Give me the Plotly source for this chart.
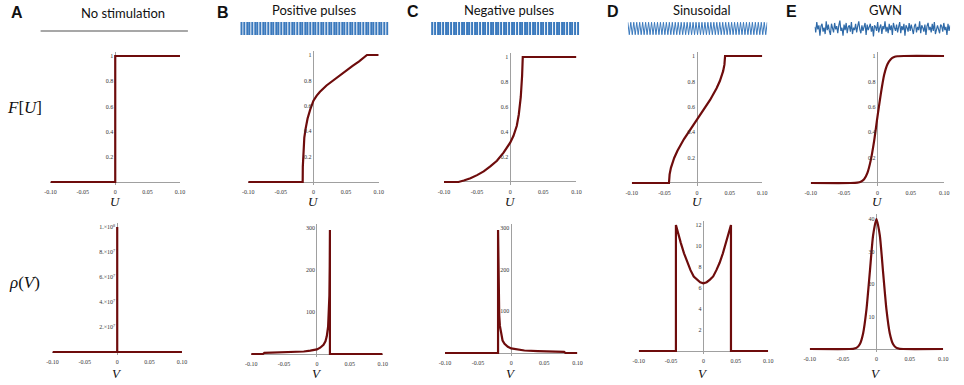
import plotly.graph_objects as go

W, H = 964, 385

# ---------------- data ----------------
x_ticks = [-0.10, -0.05, 0, 0.05, 0.10]
x_tick_text = ["-0.10", "-0.05", "0", "0.05", "0.10"]

# Panel A: no stimulation
U_A = [-0.10, 0.0, 0.0, 0.10]
F_A = [0, 0, 1, 1]
V_A = [-0.10, 0.0, 0.0, 0.0, 0.10]
rho_A = [0, 0, 1.0e8, 0, 0]

# Panel B: positive pulses
U_B = [-0.10, -0.0165, -0.0163, -0.0155, -0.014, -0.012, -0.009, -0.005, 0.0,
       0.005, 0.01, 0.02, 0.03, 0.04, 0.05, 0.06, 0.07, 0.075, 0.08, 0.082, 0.10]
F_B = [0, 0, 0.12, 0.25, 0.35, 0.42, 0.50, 0.57, 0.64,
       0.68, 0.71, 0.76, 0.80, 0.84, 0.88, 0.915, 0.95, 0.968, 0.988, 1.0, 1.0]
V_B = [-0.10, -0.082, -0.08, -0.06, -0.04, -0.02, -0.01, 0.0, 0.005, 0.01,
       0.013, 0.015, 0.017, 0.018, 0.019, 0.0195, 0.0198, 0.0198, 0.10]
rho_B = [0, 0, 2.5, 3.5, 4.5, 6, 8, 11, 15, 22,
         30, 42, 65, 90, 140, 210, 295, 0, 0]

# Panel C: negative pulses
U_C = [-0.10, -0.078, -0.07, -0.06, -0.05, -0.04, -0.03, -0.02, -0.01, 0.0,
       0.005, 0.01, 0.013, 0.016, 0.018, 0.019, 0.10]
F_C = [0, 0, 0.012, 0.03, 0.055, 0.085, 0.125, 0.17, 0.235, 0.315,
       0.37, 0.45, 0.54, 0.68, 0.85, 1.0, 1.0]
V_C = [-0.10, -0.0198, -0.0198, -0.0195, -0.019, -0.018, -0.017, -0.015, -0.013,
       -0.01, -0.005, 0.0, 0.01, 0.02, 0.04, 0.06, 0.08, 0.082, 0.10]
rho_C = [0, 0, 295, 210, 140, 90, 65, 42, 30,
         22, 15, 11, 8, 6, 4.5, 3.5, 2.5, 0, 0]

# Panel D: sinusoidal
U_D = [-0.10, -0.043, -0.042, -0.04, -0.035, -0.03, -0.02, -0.01, 0.0,
       0.01, 0.02, 0.03, 0.035, 0.04, 0.042, 0.043, 0.10]
F_D = [0, 0, 0.068, 0.119, 0.197, 0.254, 0.346, 0.425, 0.5,
       0.575, 0.654, 0.746, 0.803, 0.881, 0.932, 1.0, 1.0]
V_D = [-0.10, -0.0425, -0.0425, -0.041, -0.038, -0.035, -0.03, -0.025, -0.02,
       -0.015, -0.01, -0.005, 0.0, 0.005, 0.01, 0.015, 0.02, 0.025, 0.03,
       0.035, 0.038, 0.041, 0.0425, 0.0425, 0.10]
rho_D = [0, 0, 12.0, 11.6, 10.9, 10.3, 9.3, 8.4, 7.7,
         7.1, 6.8, 6.55, 6.45, 6.55, 6.8, 7.1, 7.7, 8.4, 9.3,
         10.3, 10.9, 11.6, 12.0, 0, 0]

# Panel E: Gaussian white noise
U_E = [-0.10, -0.04, -0.03, -0.025, -0.02, -0.015, -0.01, -0.005, 0.0,
       0.005, 0.01, 0.015, 0.02, 0.025, 0.03, 0.04, 0.10]
F_E = [0, 0.0, 0.003, 0.01, 0.03, 0.08, 0.18, 0.33, 0.52,
       0.70, 0.85, 0.935, 0.975, 0.992, 0.998, 1.0, 1.0]
V_E = [-0.10, -0.04, -0.035, -0.03, -0.025, -0.02, -0.015, -0.01, -0.005, 0.0,
       0.005, 0.01, 0.015, 0.02, 0.025, 0.03, 0.035, 0.04, 0.10]
rho_E = [0, 0.0, 0.06, 0.33, 1.46, 4.8, 12.1, 23.5, 35.0, 40.0,
         35.0, 23.5, 12.1, 4.8, 1.46, 0.33, 0.06, 0.0, 0]

# stimulus strips
pos_pulses = [1, 1, 1, 1, 1, 1, 1, 1, 1, 1, 1, 1, 1, 1, 1, 1, 1, 1, 1, 1,
              1, 1, 1, 1, 1, 1, 1, 1, 1, 1, 1, 1, 1, 1, 1, 1, 1, 1, 1, 1,
              1, 1, 1, 1, 1, 1, 1, 1, 1, 1, 1, 1, 1, 1, 1, 1]
neg_pulses = [-1, -1, -1, -1, -1, -1, -1, -1, -1, -1, -1, -1, -1, -1, -1, -1, -1, -1, -1, -1,
              -1, -1, -1, -1, -1, -1, -1, -1, -1, -1, -1, -1, -1, -1, -1, -1, -1, -1, -1, -1,
              -1, -1, -1, -1, -1, -1, -1, -1, -1, -1, -1, -1, -1, -1, -1, -1]
sine_extrema = [1, -1, 1, -1, 1, -1, 1, -1, 1, -1, 1, -1, 1, -1, 1, -1, 1, -1, 1, -1,
                1, -1, 1, -1, 1, -1, 1, -1, 1, -1, 1, -1, 1, -1, 1, -1, 1, -1, 1, -1,
                1, -1, 1, -1, 1, -1, 1, -1, 1, -1, 1, -1, 1, -1, 1, -1, 1, -1, 1, -1,
                1, -1, 1, -1, 1, -1, 1, -1, 1, -1, 1, -1, 1, -1, 1, -1, 1, -1, 1, -1,
                1, -1, 1, -1, 1, -1, 1, -1, 1, -1, 1, -1, 1, -1, 1]
gwn = [0.2, -0.5, 0.8, -0.1, 0.4, -0.9, 0.3, 0.6, -0.4, 0.1, -0.7, 0.9, -0.2, 0.5, -0.3,
       -0.8, 0.6, 0.2, -0.5, 0.7, -0.1, 0.3, -0.6, 0.4, 1.0, -0.3, 0.1, -0.9, 0.5, -0.2,
       0.7, -0.6, 0.2, 0.4, -0.4, 0.8, -0.7, 0.1, -0.2, 0.6, -0.5, 0.3, 0.9, -0.1, -0.6,
       0.4, -0.3, 0.2, 0.7, -0.8, 0.5, -0.2, 0.1, 0.6, -0.4, 0.3, -1.0, 0.4, 0.2, -0.3,
       0.8, -0.5, 0.1, 0.5, -0.7, 0.3, -0.1, 0.9, -0.4, 0.2, -0.6, 0.6, -0.2, 0.4, -0.8,
       0.7, 0.1, -0.3, 0.5, -0.5, 0.2, 0.8, -0.6, 0.3, -0.2, 0.6, -0.9, 0.4, 0.1, -0.4,
       0.7, -0.3, 0.5, -0.1, -0.7, 0.3, 0.6, -0.5, 0.2, -0.2, 0.9, -0.6, 0.4, 0.1, -0.4,
       0.5, -0.8, 0.3, 0.7, -0.2, 0.2, -0.5, 0.6, -0.3, 0.8, -0.7, 0.1, 0.4, -0.1, -0.6,
       0.5, 0.3, -0.4, 0.7, -0.2, 0.2, -0.8, 0.6, -0.3, 0.4]

titles = ["No stimulation", "Positive pulses", "Negative pulses", "Sinusoidal", "GWN"]
letters = ["A", "B", "C", "D", "E"]

top_ticks = [0.2, 0.4, 0.6, 0.8, 1.0]
top_tick_text = ["0.2", "0.4", "0.6", "0.8", "1"]
bottom_ticks = [
    [2e7, 4e7, 6e7, 8e7, 1e8],
    [100, 200, 300],
    [100, 200, 300],
    [2, 4, 6, 8, 10, 12],
    [10, 20, 30, 40],
]
bottom_tick_text = [
    ["2.×10<sup>7</sup>", "4.×10<sup>7</sup>", "6.×10<sup>7</sup>", "8.×10<sup>7</sup>", "1.×10<sup>8</sup>"],
    ["100", "200", "300"],
    ["100", "200", "300"],
    ["2", "4", "6", "8", "10", "12"],
    ["10", "20", "30", "40"],
]

# ---------------- layout geometry (pixels) ----------------
# (x of -0.10, x of 0.10, y of 0, y of ymax, ymax)
top_geo = [(45, 176, 182, 56, 1.0), (245, 377, 182, 55, 1.0), (443, 577, 182, 57, 1.0),
           (633, 765, 183, 56, 1.0), (814, 949, 183, 56, 1.0)]
bot_geo = [(47, 178, 352, 227, 1.0e8), (248, 381, 354, 228, 300), (444, 578, 353, 228, 300),
           (640, 771, 351, 225, 12), (813, 948, 349, 219, 40)]

CURVE = "#6e0c0c"
AXC = "#a0a0a0"
TICKFONT = dict(family="Liberation Serif", size=6, color="#333")
BLUE = "#3a79bd"

fig = go.Figure()
layout = dict(width=W, height=H, margin=dict(l=0, r=0, t=0, b=0), autosize=False,
              paper_bgcolor="white", plot_bgcolor="white", showlegend=False)
annotations = []


def ax_name(i, kind):
    return f"{kind}axis" if i == 1 else f"{kind}axis{i}"


def ref(i, kind):
    return kind if i == 1 else f"{kind}{i}"


def add_panel(i, geo, xs, ys, ticks, ticktext, spline=False):
    xl, xr, yb, yt, ymax = geo
    lo, hi = 0.02, 0.035
    s = (yb - yt) / ymax
    bottom_px = yb + lo * ymax * s
    top_px = yt - hi * ymax * s
    layout[ax_name(i, "x")] = dict(
        domain=[xl / W, xr / W], range=[-0.10, 0.10], anchor=ref(i, "y"),
        showgrid=False, showline=False, zeroline=True, zerolinecolor=AXC, zerolinewidth=1,
        tickvals=x_ticks, ticktext=x_tick_text, tickfont=TICKFONT, ticks="",
        ticklabelstandoff=2, fixedrange=True)
    layout[ax_name(i, "y")] = dict(
        domain=[1 - bottom_px / H, 1 - top_px / H], range=[-lo * ymax, (1 + hi) * ymax],
        anchor="free", position=((xl + xr) / 2) / W,
        showgrid=False, showline=False, zeroline=True, zerolinecolor=AXC, zerolinewidth=1,
        tickvals=ticks, ticktext=ticktext, tickfont=TICKFONT, ticks="",
        ticklabelstandoff=2, fixedrange=True)
    fig.add_trace(go.Scatter(
        x=xs, y=ys, mode="lines", xaxis=ref(i, "x"), yaxis=ref(i, "y"),
        line=dict(color=CURVE, width=2.2, shape="spline" if spline else "linear",
                  smoothing=0.6), hoverinfo="skip"))


top_data = [(U_A, F_A), (U_B, F_B), (U_C, F_C), (U_D, F_D), (U_E, F_E)]
bot_data = [(V_A, rho_A), (V_B, rho_B), (V_C, rho_C), (V_D, rho_D), (V_E, rho_E)]

for k in range(5):
    add_panel(k + 1, top_geo[k], top_data[k][0], top_data[k][1], top_ticks, top_tick_text,
              spline=(k == 4))
    add_panel(k + 6, bot_geo[k], bot_data[k][0], bot_data[k][1], bottom_ticks[k],
              bottom_tick_text[k], spline=(k == 4))


def strip_axes(i, x0, x1, y0, y1, xr, yr):
    layout[ax_name(i, "x")] = dict(domain=[x0 / W, x1 / W], range=xr, visible=False,
                                   anchor=ref(i, "y"), fixedrange=True)
    layout[ax_name(i, "y")] = dict(domain=[1 - y1 / H, 1 - y0 / H], range=yr, visible=False,
                                   anchor=ref(i, "x"), fixedrange=True)


# positive pulses strip
strip_axes(11, 237, 387, 22, 35, [-0.6, len(pos_pulses) - 0.4], [0, 1])
fig.add_trace(go.Bar(y=pos_pulses, xaxis="x11", yaxis="y11", width=0.45,
                     marker=dict(color=BLUE, line=dict(width=0)), hoverinfo="skip"))
# negative pulses strip
strip_axes(12, 430, 580, 22, 35, [-0.6, len(neg_pulses) - 0.4], [-1, 0])
fig.add_trace(go.Bar(y=neg_pulses, xaxis="x12", yaxis="y12", width=0.45,
                     marker=dict(color=BLUE, line=dict(width=0)), hoverinfo="skip"))
# sinusoid strip
strip_axes(13, 629, 770, 22, 35, [0, len(sine_extrema) - 1], [-1.05, 1.05])
fig.add_trace(go.Scatter(y=sine_extrema, mode="lines", xaxis="x13", yaxis="y13",
                         line=dict(color=BLUE, width=1), hoverinfo="skip"))
# GWN strip
strip_axes(14, 818, 955, 19, 38, [0, len(gwn) - 1], [-1.2, 1.2])
fig.add_trace(go.Scatter(y=gwn, mode="lines", xaxis="x14", yaxis="y14",
                         line=dict(color="#2f6aa8", width=1.2), hoverinfo="skip"))

layout["barmode"] = "overlay"

# ---------------- text ----------------
def ann(x, y, text, size, family, color="#111"):
    annotations.append(dict(x=x / W, y=1 - y / H, xref="paper", yref="paper", text=text,
                            showarrow=False, xanchor="center", yanchor="middle",
                            font=dict(size=size, family=family, color=color)))


letter_pos = [(11, 12), (220, 12), (412, 11), (614, 11), (795, 11)]
title_pos = [(118, 13), (312, 10), (509, 10), (704, 10), (890, 10)]
for k in range(5):
    ann(letter_pos[k][0], letter_pos[k][1], f"<b>{letters[k]}</b>", 16, "Liberation Sans")
    ann(title_pos[k][0], title_pos[k][1], titles[k], 13, "Lato")
    xl, xr = top_geo[k][0], top_geo[k][1]
    ann((xl + xr) / 2, 202, "<i>U</i>", 13, "Liberation Serif")
    xl, xr = bot_geo[k][0], bot_geo[k][1]
    ann((xl + xr) / 2, 373, "<i>V</i>", 13, "Liberation Serif")

ann(19, 107, "<i>F</i>[<i>U</i>]", 17, "Liberation Serif")
ann(19, 282, "<i>ρ</i>(<i>V</i>)", 17, "Liberation Serif")

layout["annotations"] = annotations
layout["shapes"] = [dict(type="line", xref="paper", yref="paper",
                         x0=35 / W, x1=184 / W, y0=1 - 31 / H, y1=1 - 31 / H,
                         line=dict(color="#8a8a8a", width=1.5))]

fig.update_layout(**layout)
fig.write_html("out.html",
               config={"responsive": False, "displayModeBar": False},
               post_script="document.body.style.margin='0';document.body.style.overflow='hidden';")
